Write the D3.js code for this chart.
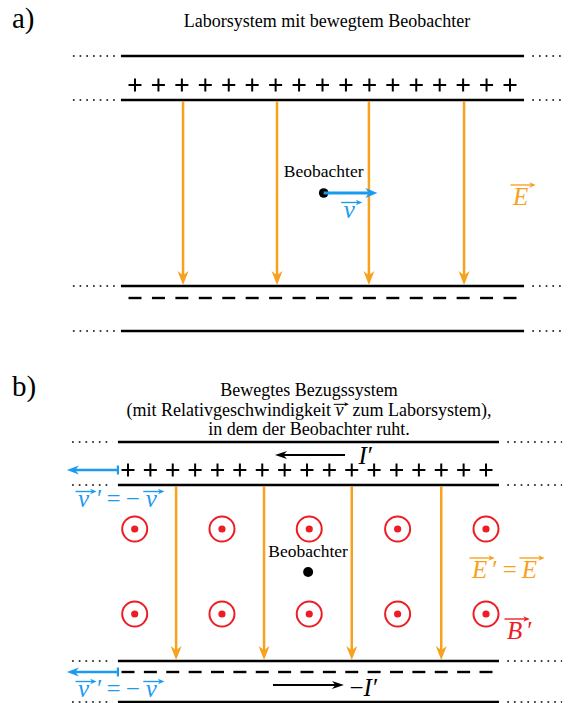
<!DOCTYPE html>
<html>
<head>
<meta charset="utf-8">
<script src="https://cdn.jsdelivr.net/npm/d3@7"></script>
<style>
  body { margin: 0; background: #fff; }
  svg text { font-family: 'Liberation Serif', 'Times New Roman', serif; }
</style>
</head>
<body>
<div></div>
<script>
const w = 571;
const h = 703;

const orange = '#f8a11e';
const blue = '#1a9bf0';
const red = '#ee1c24';
const ink = '#000';

// charge slots along a plate (index units)
const charges = [0, 1, 2, 3, 4, 5, 6, 7, 8, 9, 10, 11, 12, 13, 14, 15, 16];
// field lines, in charge-index units
const fieldA = [2.05, 6.06, 9.98, 14.04];
const fieldB = [2.15, 6.08, 10.0, 14.0];
// B' symbols (columns in charge-index units)
const bCols = [0.3, 4.2, 8.1, 12.05, 16.0];
const bRowsB = ['upper', 'lower'];
// plate extent and dotted continuations (charge-index units)
const plateA = [-0.6, 16.6];
const plateB = [-0.45, 16.58];
const dotsA = [[-2.65, -0.8], [16.95, 18.2]];
const dotsB = [[-2.5, -0.7], [16.95, 19.4]];

const titleA = 'Laborsystem mit bewegtem Beobachter';
const titleB = [
  [{ t: 'Bewegtes Bezugssystem' }],
  [{ t: '(mit Relativgeschwindigkeit\u00a0' }, { t: 'v', it: true, vec: true }, { t: '\u00a0\u00a0zum Laborsystem),' }],
  [{ t: 'in dem der Beobachter ruht.' }]
];
const observer = 'Beobachter';

const xA = d3.scaleLinear().domain([0, 16]).range([135, 510]);
const xB = d3.scaleLinear().domain([0, 16]).range([128, 486]);

// vertical layout
const yA = { top: 56, plus: 85, upper: 100, lower: 286, minus: 298, bottom: 331, obs: 193 };
const yB = { top: 442, cur: 455, plus: 470, upper: 485, lower: 661, minus: 672, cur2: 685, bottom: 702, upperRow: 529, lowerRow: 614, obs: 572 };

const svg = d3
  .select('body')
  .select('div')
  .append('svg')
  .attr('width', w)
  .attr('height', h);

function arrow(g, x1, y1, x2, y2, color, sw, len, wid) {
  const a = Math.atan2(y2 - y1, x2 - x1);
  const bx = x2 - Math.cos(a) * len * 0.6;
  const by = y2 - Math.sin(a) * len * 0.6;
  g.append('line')
    .attr('x1', x1).attr('y1', y1).attr('x2', bx).attr('y2', by)
    .attr('stroke', color).attr('stroke-width', sw);
  g.append('path')
    .attr('d', `M0,0L${-len},${-wid / 2}L${-len * 0.7},0L${-len},${wid / 2}Z`)
    .attr('transform', `translate(${x2},${y2}) rotate(${(a * 180) / Math.PI})`)
    .attr('fill', color);
}

function dotted(g, x1, x2, y) {
  g.append('line')
    .attr('x1', x1).attr('x2', x2).attr('y1', y).attr('y2', y)
    .attr('stroke', ink).attr('stroke-width', 1.7)
    .attr('stroke-dasharray', '1.7,5');
}

// text made of pieces, some with a vector arrow on top
function mathText(g, x, y, parts, color, size, anchor) {
  const grp = g.append('g');
  let cx = 0;
  parts.forEach((p) => {
    cx += p.gap || 0;
    const t = grp.append('text')
      .attr('x', cx).attr('y', 0)
      .attr('font-size', size)
      .attr('fill', color)
      .attr('font-style', p.it ? 'italic' : 'normal')
      .text(p.t);
    const tw = t.node().getComputedTextLength();
    if (p.vec) {
      const lower = p.t === p.t.toLowerCase();
      const ay = -size * (lower ? 0.62 : 0.8);
      const x0 = cx - size * 0.1;
      const x1 = cx + tw + size * 0.3;
      const hl = size * 0.26;
      grp.append('line')
        .attr('x1', x0).attr('x2', x1 - hl * 0.5)
        .attr('y1', ay).attr('y2', ay)
        .attr('stroke', color).attr('stroke-width', Math.max(1, size * 0.055));
      grp.append('path')
        .attr('d', `M${x1},${ay}l${-hl},${-hl * 0.42}l${hl * 0.3},${hl * 0.42}l${-hl * 0.3},${hl * 0.42}Z`)
        .attr('fill', color);
    }
    cx += tw;
  });
  const off = anchor === 'middle' ? -cx / 2 : 0;
  grp.attr('transform', `translate(${x + off},${y})`);
  return grp;
}

function plate(g, x, span, dots, y) {
  g.append('line')
    .attr('x1', x(span[0])).attr('x2', x(span[1]))
    .attr('y1', y).attr('y2', y)
    .attr('stroke', ink).attr('stroke-width', 2.6);
  dots.forEach((d) => dotted(g, x(d[0]), x(d[1]), y));
}

function pluses(g, x, y) {
  g.selectAll(null)
    .data(charges)
    .enter()
    .append('path')
    .attr('d', (d) => `M${x(d) - 6.5},${y}h13M${x(d)},${y - 6.5}v13`)
    .attr('stroke', ink)
    .attr('stroke-width', 2);
}

function minuses(g, x, y) {
  g.selectAll(null)
    .data(charges)
    .enter()
    .append('line')
    .attr('x1', (d) => x(d) - 6.5)
    .attr('x2', (d) => x(d) + 6.5)
    .attr('y1', y).attr('y2', y)
    .attr('stroke', ink)
    .attr('stroke-width', 2.4);
}

const mathSize = 25;

// ---------- a) ----------
const ga = svg.append('g');
ga.append('text').attr('x', 12).attr('y', 28).attr('font-size', 29).attr('fill', ink).text('a)');
ga.append('text').attr('x', 327).attr('y', 27).attr('font-size', 18).attr('text-anchor', 'middle').attr('fill', ink).text(titleA);

plate(ga, xA, plateA, dotsA, yA.top);
plate(ga, xA, plateA, dotsA, yA.upper);
plate(ga, xA, plateA, dotsA, yA.lower);
plate(ga, xA, plateA, dotsA, yA.bottom);
pluses(ga, xA, yA.plus);
minuses(ga, xA, yA.minus);

fieldA.forEach((d) => arrow(ga, xA(d), yA.upper + 1, xA(d), yA.lower - 1, orange, 2.5, 14, 11));

// observer moving to the right
const obsXA = xA(8.05);
ga.append('text').attr('x', obsXA).attr('y', 177).attr('font-size', 17.5).attr('text-anchor', 'middle').attr('fill', ink).text(observer);
ga.append('circle').attr('cx', obsXA).attr('cy', yA.obs).attr('r', 4.8).attr('fill', ink);
arrow(ga, obsXA, yA.obs, xA(10.34), yA.obs, blue, 3, 12, 10);
mathText(ga, obsXA + 20, 218, [{ t: 'v', it: true, vec: true }], blue, mathSize);
mathText(ga, 513, 205, [{ t: 'E', it: true, vec: true }], orange, mathSize);

// ---------- b) ----------
const gb = svg.append('g');
gb.append('text').attr('x', 12).attr('y', 396).attr('font-size', 29).attr('fill', ink).text('b)');
titleB.forEach((line, i) => mathText(gb, 309, 396 + i * 19.5, line, ink, 18, 'middle'));

plate(gb, xB, plateB, dotsB, yB.top);
plate(gb, xB, plateB, dotsB, yB.upper);
plate(gb, xB, plateB, dotsB, yB.lower);
plate(gb, xB, plateB, dotsB, yB.bottom);
pluses(gb, xB, yB.plus);
minuses(gb, xB, yB.minus);

fieldB.forEach((d) => arrow(gb, xB(d), yB.upper + 1, xB(d), yB.lower - 1, orange, 2.5, 14, 11));

// B' out of the page
bRowsB.forEach((row) => {
  const y = row === 'upper' ? yB.upperRow : yB.lowerRow;
  gb.selectAll(null)
    .data(bCols)
    .enter()
    .append('circle')
    .attr('cx', (d) => xB(d)).attr('cy', y).attr('r', 12.5)
    .attr('fill', 'none').attr('stroke', red).attr('stroke-width', 2);
  gb.selectAll(null)
    .data(bCols)
    .enter()
    .append('circle')
    .attr('cx', (d) => xB(d)).attr('cy', y).attr('r', 3.6)
    .attr('fill', red);
});

// currents
arrow(gb, xB(9.7), yB.cur, xB(6.57), yB.cur, ink, 2, 12, 8);
mathText(gb, xB(10.3), 464, [{ t: 'I', it: true }, { t: '′', gap: 1 }], ink, mathSize);
arrow(gb, xB(6.48), yB.cur2, xB(9.65), yB.cur2, ink, 2, 12, 8);
mathText(gb, xB(9.9), 696, [{ t: '−' }, { t: 'I', it: true }, { t: '′', gap: 1 }], ink, mathSize);

// moving charges seen from the observer
[yB.plus, yB.minus].forEach((y) => {
  arrow(gb, xB(-0.45), y, xB(-2.73), y, blue, 2.6, 12, 9);
  gb.append('line')
    .attr('x1', xB(-0.45)).attr('x2', xB(-0.45))
    .attr('y1', y - 4.5).attr('y2', y + 4.5)
    .attr('stroke', blue).attr('stroke-width', 2.2);
});
const vPrime = [
  { t: 'v', it: true, vec: true },
  { t: '′', gap: 8 },
  { t: '=', gap: 4 },
  { t: '−', gap: 5 },
  { t: 'v', it: true, vec: true, gap: 6 }
];
mathText(gb, 78, 507, vPrime, blue, mathSize);
mathText(gb, 78, 697, vPrime, blue, mathSize);

gb.append('text').attr('x', xB(8.05)).attr('y', 557).attr('font-size', 17.5).attr('text-anchor', 'middle').attr('fill', ink).text(observer);
gb.append('circle').attr('cx', xB(8.05)).attr('cy', yB.obs).attr('r', 5).attr('fill', ink);

mathText(gb, 472, 578, [
  { t: 'E', it: true, vec: true },
  { t: '′', gap: 5 },
  { t: '=', gap: 5 },
  { t: 'E', it: true, vec: true, gap: 5 }
], orange, mathSize);
mathText(gb, 507, 639, [{ t: 'B', it: true, vec: true }, { t: '′', gap: 5 }], red, mathSize);
</script>
</body>
</html>
